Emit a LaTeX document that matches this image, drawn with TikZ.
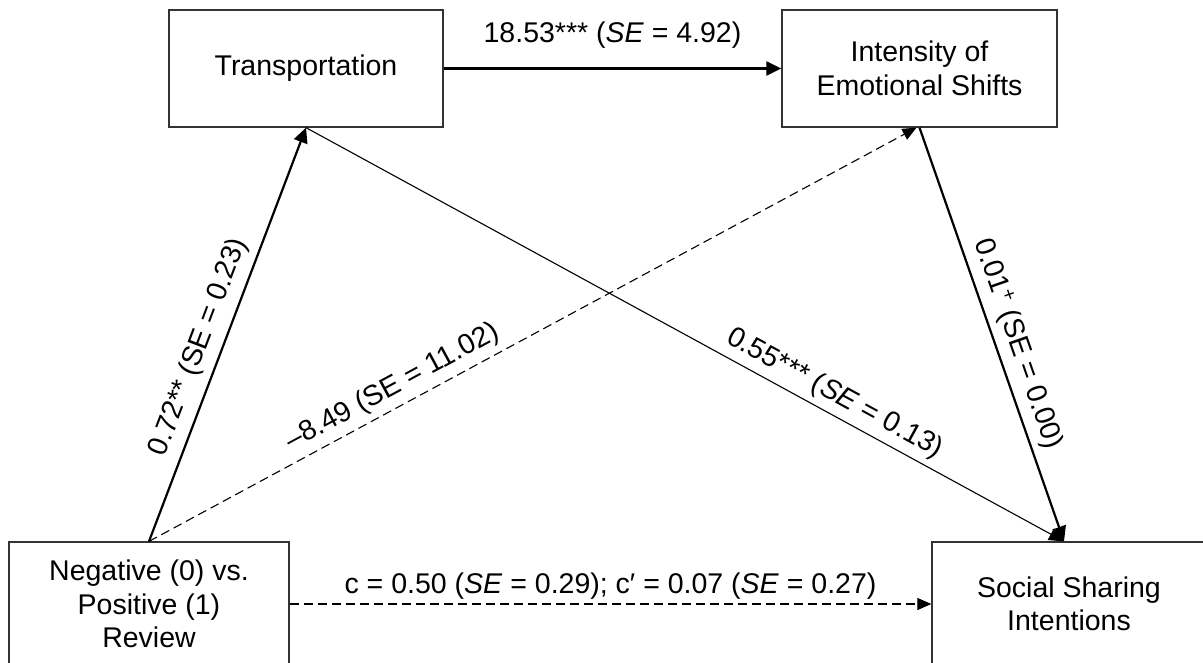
\documentclass[tikz,border=0pt]{standalone}
\usepackage{fontspec}
\setmainfont{Liberation Sans}
\usetikzlibrary{arrows.meta}
\begin{document}
\begin{tikzpicture}[x=1pt,y=-1pt,
  box/.style={draw=black!80, line width=1.3pt, align=center, inner sep=0pt, font=\fontsize{28.5}{33.5}\selectfont},
  lbl/.style={font=\fontsize{28.5}{33.5}\selectfont, inner sep=3pt},
  boldarr/.style={line width=2.2pt, -{Triangle[length=15pt,width=14pt]}},
  thinarr/.style={line width=1.1pt, -{Triangle[length=15pt,width=13pt]}},
  dasharr/.style={line width=1.1pt, dash pattern=on 9pt off 5pt, -{Triangle[length=14pt,width=12pt]}}
]
\useasboundingbox (0,0) rectangle (1203,662);
\clip (0,0) rectangle (1203,662);
\fill[white] (0,0) rectangle (1203,662);

\node[box, minimum width=274pt, minimum height=117pt] (tr) at (306,68.5) {Transportation};
\node[box, minimum width=275pt, minimum height=117pt] (ie) at (919.5,68.5) {Intensity of\\Emotional Shifts};
\node[box, minimum width=280pt, minimum height=124pt] (neg) at (149,604) {Negative (0) vs.\\Positive (1)\\Review};
\node[box, minimum width=274pt, minimum height=124pt] (ss) at (1069,604) {Social Sharing\\Intentions};

\draw[boldarr] (tr.east) -- node[lbl, above=16pt] {18.53*** (\textit{SE} = 4.92)} (ie.west);
\draw[boldarr] (neg.north) -- node[lbl, sloped, above=5pt, pos=0.45] {0.72** (SE = 0.23)} (tr.south);
\draw[dasharr] (neg.north) -- node[lbl, sloped, above=3pt, pos=0.33] {–8.49 (SE = 11.02)} ([xshift=-3pt]ie.south);
\draw[thinarr] (tr.south) -- node[lbl, sloped, above=3pt, pos=0.685] {0.55*** (\textit{SE} = 0.13)} ([xshift=-5pt]ss.north);
\draw[boldarr] (ie.south) -- node[lbl, sloped, above=4pt, pos=0.54] {0.01\textsuperscript{+} (SE = 0.00)} ([xshift=-5pt]ss.north);
\draw[dasharr] (neg.east) -- node[lbl, above=1pt] {c = 0.50 (\textit{SE} = 0.29); c′ = 0.07 (\textit{SE} = 0.27)} (ss.west);
\end{tikzpicture}
\end{document}
